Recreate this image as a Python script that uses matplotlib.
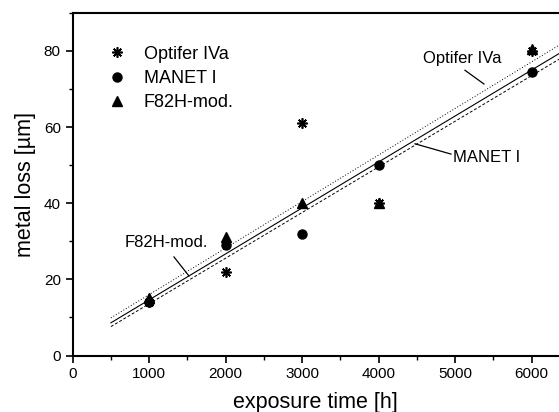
import matplotlib
matplotlib.use('Agg')
import matplotlib.pyplot as plt
from matplotlib.ticker import MultipleLocator

plt.rcParams['font.family'] = ['Liberation Sans', 'DejaVu Sans']

# measured points
hours = [1000, 2000, 3000, 4000, 6000]
optifer = [14, 22, 61, 40, 80]
manet = [14, 29, 32, 50, 74.5]
f82h = [15, 31, 40, 40, 80.5]

# fitted lines (end values)
fit_x = [500, 6400]
fit_optifer = [9.9, 82.0]
fit_manet = [7.6, 78.3]
fit_f82h = [8.6, 79.8]


def main():
    fig = plt.figure(figsize=(5.59, 4.12), dpi=100)
    ax = fig.add_axes([0.130, 0.137, 0.870, 0.832])

    ax.plot(fit_x, fit_optifer, color='black', ls=(0, (1, 2)), lw=0.7)
    ax.plot(fit_x, fit_manet, color='black', ls=(0, (3, 2)), lw=0.7)
    ax.plot(fit_x, fit_f82h, color='black', ls='-', lw=0.8)

    ax.plot(hours, manet, 'o', color='black', ms=6.5, label='MANET I', zorder=3)
    ax.plot(hours, f82h, '^', color='black', ms=7, label='F82H-mod.', zorder=3)
    ax.plot(hours, optifer, marker=(8, 2, 0), ls='none', color='black', ms=7.5,
            mew=1.2, label='Optifer IVa', zorder=4)

    handles, labels = ax.get_legend_handles_labels()
    order = [2, 0, 1]
    ax.legend([handles[i] for i in order], [labels[i] for i in order],
              loc='upper left', bbox_to_anchor=(0.05, 0.93), frameon=False,
              fontsize=13, handletextpad=0.9, labelspacing=0.4,
              handlelength=1.2, borderpad=0)

    # line labels with leaders
    ax.text(5090, 78.1, 'Optifer IVa', fontsize=12, ha='center', va='center')
    ax.plot([5128, 5376], [74.9, 71.3], color='black', lw=0.9)
    ax.text(5409, 52.1, 'MANET I', fontsize=12, ha='center', va='center')
    ax.plot([4945, 4475], [52.9, 55.6], color='black', lw=0.9)
    ax.text(1220, 29.6, 'F82H-mod.', fontsize=12, ha='center', va='center')
    ax.plot([1324, 1520], [25.9, 20.9], color='black', lw=0.9)

    ax.set_xlim(0, 6357)
    ax.set_ylim(0, 90)
    ax.xaxis.set_major_locator(MultipleLocator(1000))
    ax.xaxis.set_minor_locator(MultipleLocator(500))
    ax.yaxis.set_major_locator(MultipleLocator(20))
    ax.yaxis.set_minor_locator(MultipleLocator(10))
    ax.tick_params(which='major', direction='out', length=5, width=1.2, labelsize=11)
    ax.tick_params(which='minor', direction='out', length=3, width=1.0)
    for side in ['left', 'bottom', 'top']:
        ax.spines[side].set_linewidth(1.5)
    ax.spines['right'].set_visible(False)

    ax.set_xlabel('exposure time [h]', fontsize=15.5, labelpad=8)
    ax.set_ylabel('metal loss [µm]', fontsize=15.5, labelpad=6)

    fig.savefig('out.png', dpi=100)


if __name__ == '__main__':
    main()
